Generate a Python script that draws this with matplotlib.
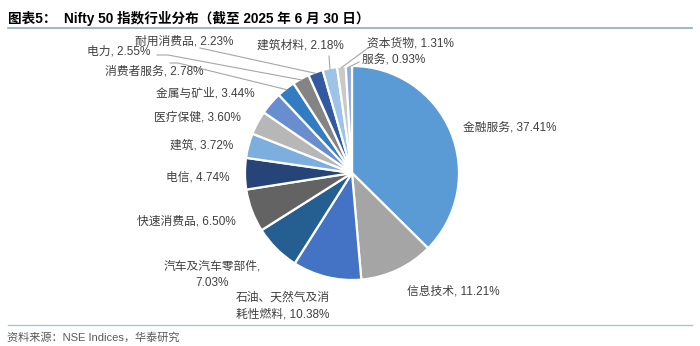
import numpy as np
import matplotlib
matplotlib.use("Agg")
import matplotlib.pyplot as plt

plt.rcParams['font.family'] = ['Liberation Sans', 'Noto Sans CJK SC']

# 数据（截至 2025 年 6 月 30 日）
sectors = ['金融服务', '信息技术', '石油、天然气及消耗性燃料', '汽车及汽车零部件',
           '快速消费品', '电信', '建筑', '医疗保健', '金属与矿业', '消费者服务',
           '电力', '耐用消费品', '建筑材料', '资本货物', '服务']
weights = [37.41, 11.21, 10.38, 7.03, 6.50, 4.74, 3.72, 3.60, 3.44, 2.78,
           2.55, 2.23, 2.18, 1.31, 0.93]
colors = ['#5B9BD5', '#A5A5A5', '#4472C4', '#255E91', '#636363', '#264478',
          '#7CAFDD', '#B7B7B7', '#698ED0', '#327DC2', '#848484', '#335AA1',
          '#9DC3E6', '#C9C9C9', '#8FAADC']

W, H = 700, 346
fig = plt.figure(figsize=(W / 100, H / 100), dpi=100)

# 饼图（中心与半径按像素定位）
cx, cy, r = 352, 173, 107
ax = fig.add_axes([(cx - r) / W, (H - cy - r) / H, 2 * r / W, 2 * r / H])
wedges, _ = ax.pie(weights, colors=colors, startangle=90, counterclock=False,
                   radius=1, wedgeprops=dict(edgecolor='white', linewidth=1.6))
ax.set_xlim(-1, 1)
ax.set_ylim(-1, 1)
ax.set_aspect('equal')
ax.axis('off')

# 覆盖层：像素坐标（y 轴向下）
ov = fig.add_axes([0, 0, 1, 1], zorder=3)
ov.set_xlim(0, W)
ov.set_ylim(H, 0)
ov.axis('off')
ov.patch.set_alpha(0)

txt_color = '#404040'
fs = 8.5

labels = {}
for name, v in zip(sectors, weights):
    labels[name] = f"{name}, {v:.2f}%"
labels['石油、天然气及消耗性燃料'] = '石油、天然气及消\n耗性燃料, 10.38%'
labels['汽车及汽车零部件'] = '汽车及汽车零部件,\n7.03%'

# 标签位置 (x, y, ha)
pos = {
    '金融服务': (463, 128, 'left'),
    '信息技术': (407, 292, 'left'),
    '石油、天然气及消耗性燃料': (283, 306, 'center'),
    '汽车及汽车零部件': (212, 275, 'center'),
    '快速消费品': (236, 221, 'right'),
    '电信': (229, 177, 'right'),
    '建筑': (233, 145, 'right'),
    '医疗保健': (241, 117, 'right'),
    '金属与矿业': (255, 93, 'right'),
    '消费者服务': (105, 72, 'left'),
    '电力': (87, 52, 'left'),
    '耐用消费品': (135, 41, 'left'),
    '建筑材料': (257, 45, 'left'),
    '资本货物': (367, 44, 'left'),
    '服务': (362, 59, 'left'),
}
for name in sectors:
    x, y, ha = pos[name]
    ov.text(x, y, labels[name], fontsize=fs, color=txt_color, ha=ha,
            va='center', multialignment='center', linespacing=1.5)

# 引导线：起点（像素）-> 扇区外缘中点
leaders = {
    '耐用消费品': [(200, 48)],
    '电力': [(157, 55), (168, 55)],
    '消费者服务': [(170, 63), (178, 63)],
    '建筑材料': [(329, 56)],
    '资本货物': [(368, 48)],
    '服务': [(359, 62)],
}
to_ov = ov.transData.inverted()
for w, name in zip(wedges, sectors):
    if name not in leaders:
        continue
    mid = np.deg2rad((w.theta1 + w.theta2) / 2)
    end = to_ov.transform(ax.transData.transform((np.cos(mid) * 0.99, np.sin(mid) * 0.99)))
    pts = leaders[name] + [tuple(end)]
    xs, ys = zip(*pts)
    ov.plot(xs, ys, color='#A6A6A6', lw=0.8)

# 标题与来源
ov.text(8, 18, '图表5：  Nifty 50 指数行业分布（截至 2025 年 6 月 30 日）',
        fontsize=9.8, fontweight='bold', color='black', va='center', ha='left')
ov.plot([8, 692], [28, 28], color='#8EA9C8', lw=1.2)
ov.plot([8, 692], [325, 325], color='#B4C3D6', lw=1.0)
ov.text(7, 337, '资料来源：NSE Indices，华泰研究', fontsize=8, color='#595959',
        va='center', ha='left')

fig.savefig('out.png', dpi=100)
